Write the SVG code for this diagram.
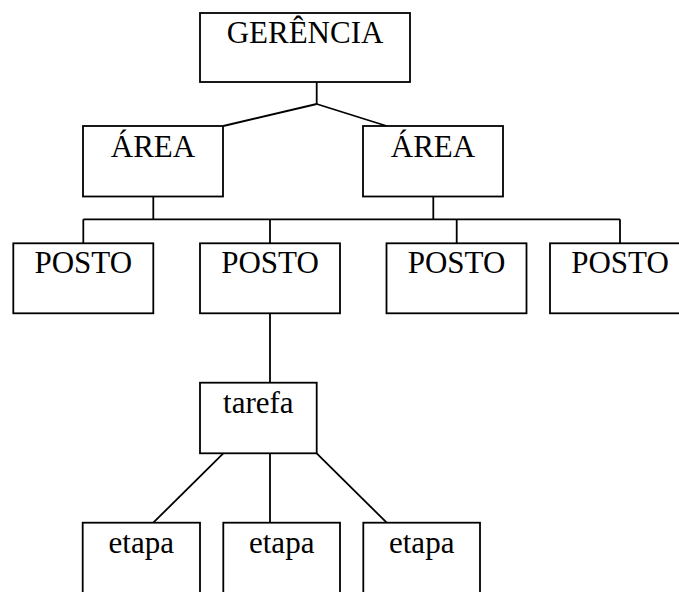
<svg xmlns="http://www.w3.org/2000/svg" width="679" height="592" viewBox="0 0 679 592">
<style>
rect{fill:#fff;stroke:#000;stroke-width:1.8}
line{stroke:#000;stroke-width:1.8}
text{font-family:"Liberation Serif","Times New Roman",serif;font-size:31px;fill:#000;text-anchor:middle}
</style>
<rect x="0" y="0" width="679" height="592" style="stroke:none;fill:#fff"/>
<g id="connectors">
<line x1="316.7" y1="82" x2="316.7" y2="104"/>
<line x1="316.7" y1="104" x2="223.3" y2="126"/>
<line x1="316.7" y1="104" x2="386.7" y2="126"/>
<line x1="153.3" y1="196.7" x2="153.3" y2="219.3"/>
<line x1="433.3" y1="196.7" x2="433.3" y2="219.3"/>
<line x1="83.3" y1="219.3" x2="620" y2="219.3"/>
<line x1="83.3" y1="219.3" x2="83.3" y2="243.3"/>
<line x1="270" y1="219.3" x2="270" y2="243.3"/>
<line x1="456.7" y1="219.3" x2="456.7" y2="243.3"/>
<line x1="620" y1="219.3" x2="620" y2="243.3"/>
<line x1="270" y1="313.3" x2="270" y2="382.7"/>
<line x1="223.3" y1="453.3" x2="153.3" y2="522.7"/>
<line x1="270" y1="453.3" x2="270" y2="522.7"/>
<line x1="316.7" y1="453.3" x2="386.7" y2="522.7"/>
</g>
<g id="gerencia"><rect x="200" y="13" width="210" height="69"/><text x="305" y="43">GERÊNCIA</text></g>
<g id="area1"><rect x="83" y="126" width="140" height="70.5"/><text x="153" y="157.3">ÁREA</text></g>
<g id="area2"><rect x="363" y="126" width="140" height="70.5"/><text x="433" y="157.3">ÁREA</text></g>
<g id="posto1"><rect x="13.3" y="243.3" width="140" height="70"/><text x="83.3" y="273.3">POSTO</text></g>
<g id="posto2"><rect x="200" y="243.3" width="140" height="70"/><text x="270" y="273.3">POSTO</text></g>
<g id="posto3"><rect x="386.5" y="243.3" width="140" height="70"/><text x="456.5" y="273.3">POSTO</text></g>
<g id="posto4"><rect x="550" y="243.3" width="140" height="70"/><text x="620" y="273.3">POSTO</text></g>
<g id="tarefa"><rect x="200" y="382.7" width="116.7" height="70.6"/><text x="258.3" y="413.3">tarefa</text></g>
<g id="etapa1"><rect x="82.7" y="522.7" width="117.3" height="72"/><text x="141.3" y="553.3">etapa</text></g>
<g id="etapa2"><rect x="223.3" y="522.7" width="116.7" height="72"/><text x="281.7" y="553.3">etapa</text></g>
<g id="etapa3"><rect x="363.3" y="522.7" width="116.7" height="72"/><text x="421.7" y="553.3">etapa</text></g>
</svg>
